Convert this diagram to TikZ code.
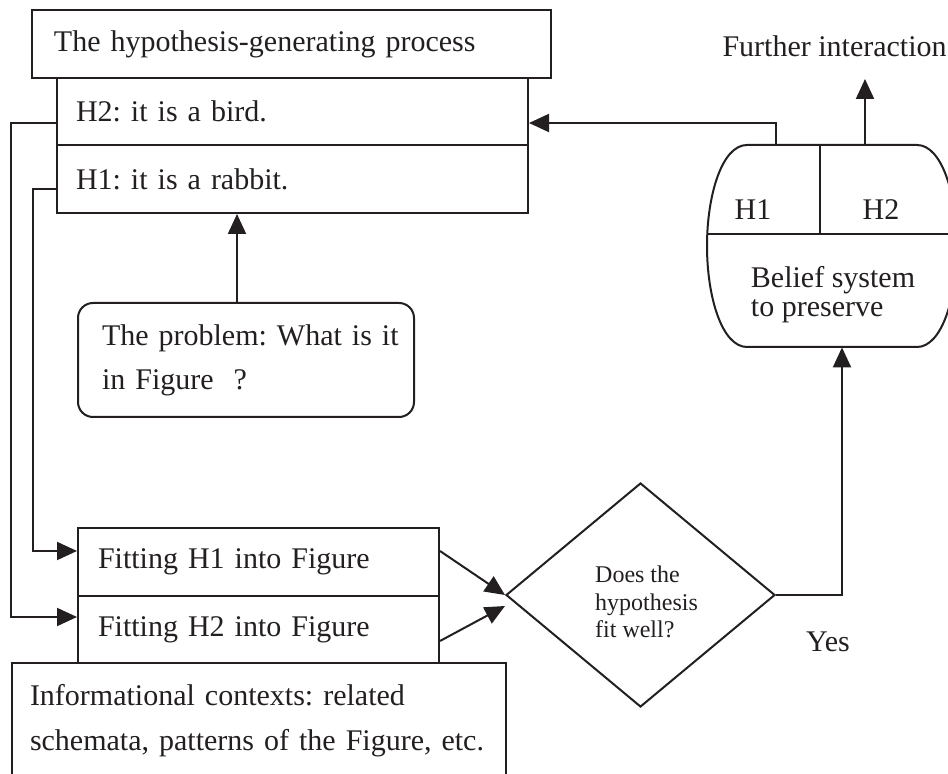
\documentclass[tikz,border=0pt]{standalone}
\usepackage{fontspec}
\setmainfont{Liberation Serif}
\usetikzlibrary{arrows.meta,shapes.geometric,calc}
\definecolor{ink}{HTML}{231F20}
\frenchspacing
\begin{document}
\begin{tikzpicture}[x=0.5pt,y=-0.5pt,
  every node/.style={font=\fontsize{15pt}{22pt}\selectfont, text=ink},
  line/.style={draw=ink, line width=1pt},
  arr/.style={line, -{Triangle[length=10pt,width=9pt]}},
  cell/.style={line, rectangle, inner ysep=0pt, align=left},
]
\useasboundingbox (0,0) rectangle (948,774);
\clip (0,0) rectangle (948,774);

% hypothesis generator with its two hypotheses
\node[cell, minimum height=34pt, inner xsep=11pt, text width=237.5pt] (gen) at (291.5,44) {The hypothesis-generating process};
\node[cell, minimum height=33.5pt, inner xsep=9.5pt, text width=216.5pt] (h2) at (292.5,111.5) {H2: it is a bird.};
\node[cell, minimum height=34pt, inner xsep=9.5pt, text width=216.5pt] (h1) at (292.5,179) {H1: it is a rabbit.};

% the problem
\node[cell, rounded corners=7.5pt, minimum height=57pt, inner xsep=12pt, text width=144pt] (prob) at (246,360) {\mbox{The problem: What is it}\\\mbox{in Figure\hspace{10pt}?}};

% fitting stage and its context
\node[cell, minimum height=34pt, inner xsep=10pt, text width=160.5pt] (f1) at (258.5,562) {Fitting H1 into Figure};
\node[cell, minimum height=33.5pt, inner xsep=10pt, text width=160.5pt] (f2) at (258.5,629.5) {Fitting H2 into Figure};
\node[cell, minimum height=57.5pt, inner xsep=9pt, text width=229pt, font=\fontsize{15pt}{22.5pt}\selectfont] (info) at (259,720.5) {\mbox{Informational contexts: related}\\\mbox{schemata, patterns of the Figure, etc.}};

% decision
\node[line, diamond, minimum width=134.5pt, minimum height=112pt, inner sep=0pt] (fit) at (640.5,595) {};
\node[font=\fontsize{12pt}{13.75pt}\selectfont, align=left] (fitq) at (646.5,602) {Does the\\hypothesis\\fit well?};
\node (yes) at (828,642) {Yes};

% belief system (barrel)
\node[minimum width=125pt, minimum height=101pt, inner sep=0pt] (belief) at (832,246) {};
\draw[line] (747,145) -- (917,145)
  .. controls (942,145) and (957,195) .. (957,246)
  .. controls (957,297) and (942,347) .. (917,347) -- (747,347)
  .. controls (722,347) and (707,297) .. (707,246)
  .. controls (707,195) and (722,145) .. (747,145) -- cycle;
\draw[line] (707.4,234) -- (956.6,234);
\draw[line] (820,145) -- (820,234);
\node (bh1) at (753,210) {H1};
\node (bh2) at (881,210) {H2};
\node[align=left, font=\fontsize{15pt}{14.5pt}\selectfont] (btext) at (833,295) {Belief system\\to preserve};

\node[anchor=base east, inner xsep=0pt] (further) at (947,57) {Further interaction};
\coordinate (up) at (865,79);

% connectors
\draw[arr] ([xshift=-4.5pt]prob.north) -- ([xshift=-4.5pt]prob.north |- h1.south);
\draw[arr] ([xshift=-28pt]belief.north) |- ([yshift=-5.75pt]h2.east);
\draw[arr] ([xshift=16.5pt]belief.north) -- (up);
\draw[arr] (fit.east) -| ([xshift=5pt]belief.south);
\draw[arr] ([yshift=-5.75pt]h2.west) -- ++(-45,0) |- ([yshift=6.25pt]f2.west);
\draw[arr] ([yshift=-5pt]h1.west) -- ++(-23,0) |- ([yshift=5.5pt]f1.west);
\draw[arr] ([yshift=5.5pt]f1.east) -- (fit.west);
\draw[arr] ([yshift=-5.75pt]f2.east) -- ([yshift=-5.5pt]fit.west);
\end{tikzpicture}
\end{document}
